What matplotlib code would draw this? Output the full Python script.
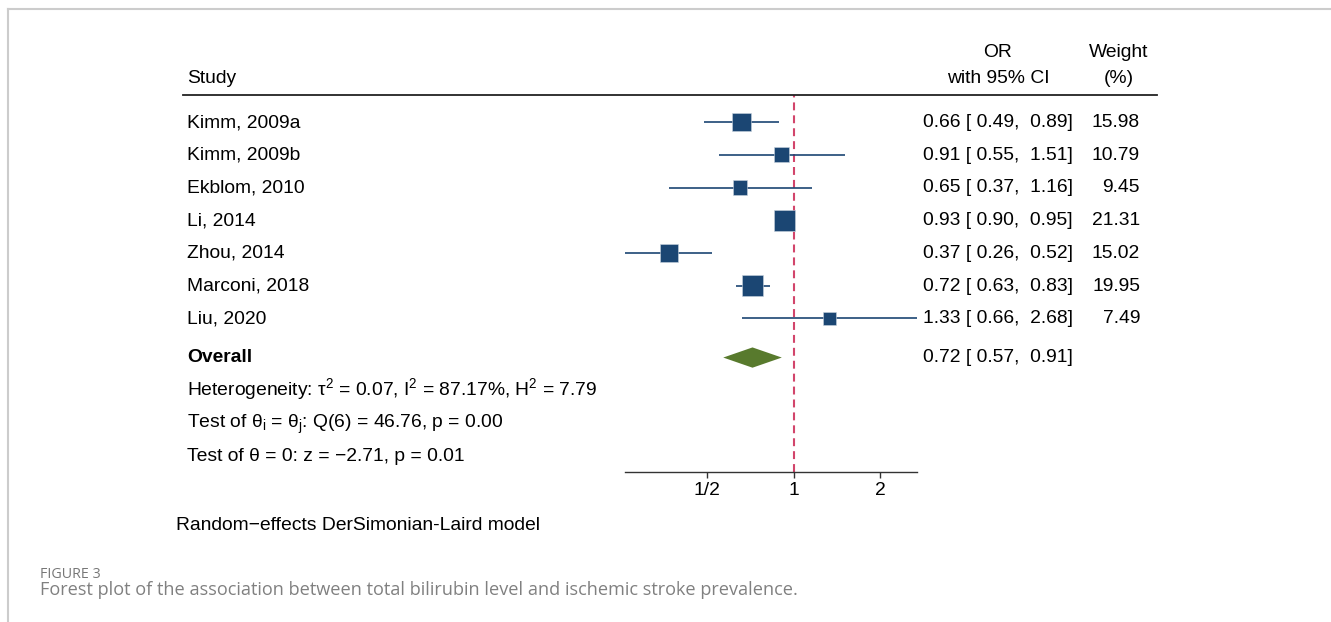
import matplotlib

matplotlib.use("Agg")
import matplotlib.pyplot as plt
import matplotlib.transforms as mtransforms
import numpy as np
from matplotlib.lines import Line2D

studies = ["Kimm, 2009a", "Kimm, 2009b", "Ekblom, 2010", "Li, 2014",
           "Zhou, 2014", "Marconi, 2018", "Liu, 2020"]
odds = [0.66, 0.91, 0.65, 0.93, 0.37, 0.72, 1.33]
ci_low = [0.49, 0.55, 0.37, 0.90, 0.26, 0.63, 0.66]
ci_high = [0.89, 1.51, 1.16, 0.95, 0.52, 0.83, 2.68]
weights = [15.98, 10.79, 9.45, 21.31, 15.02, 19.95, 7.49]

overall = (0.72, 0.57, 0.91)
stats_lines = [
    "Heterogeneity: \u03c4$^{2}$ = 0.07, I$^{2}$ = 87.17%, H$^{2}$ = 7.79",
    "Test of \u03b8$_\\mathrm{i}$ = \u03b8$_\\mathrm{j}$: Q(6) = 46.76, p = 0.00",
    "Test of \u03b8 = 0: z = \u22122.71, p = 0.01",
]
xticks = [0.5, 1, 2]
xticklabels = ["1/2", "1", "2"]

NAVY = "#1b4673"
GREEN = "#587a2d"
RED = "#d2456b"
FS = 13.9
BASE = 0.15  # baseline offset (row units) so cap height centres on the row

plt.rcParams["font.family"] = ["Liberation Sans", "DejaVu Sans"]
plt.rcParams["mathtext.fontset"] = "custom"
plt.rcParams["mathtext.rm"] = "Liberation Sans"
plt.rcParams["mathtext.it"] = "Liberation Sans:italic"
plt.rcParams["mathtext.sf"] = "Liberation Sans"

W, H = 1331, 622
fig = plt.figure(figsize=(W / 100, H / 100), dpi=100)


def fx(px):
    return px / W


def fy(py):
    return 1 - py / H


# forest panel: x is log OR, y is row index (0 at top)
ax = fig.add_axes([fx(625), fy(472), fx(917) - fx(625), fy(95) - fy(472)])
ax.set_xscale("log")
ax.set_xlim(0.26, 2.68)
ax.set_ylim(10.7, -0.83)
for s in ["top", "right", "left"]:
    ax.spines[s].set_visible(False)
ax.spines["bottom"].set_color("#333333")
ax.spines["bottom"].set_linewidth(1.0)
ax.set_yticks([])
ax.set_xticks(xticks)
ax.set_xticklabels(xticklabels, fontsize=FS)
ax.xaxis.set_minor_locator(matplotlib.ticker.NullLocator())
ax.tick_params(axis="x", length=4, width=1.0, color="#333333", pad=3)

rows = np.arange(len(studies))
ax.axvline(1, color=RED, lw=1.5, ls=(0, (3.8, 2.4)), zorder=1)
ax.hlines(rows, ci_low, ci_high, color=NAVY, lw=1.2, zorder=2)
side_pt = 4.6 * np.sqrt(weights) * 0.72
ax.scatter(odds, rows, marker="s", s=side_pt ** 2, color=NAVY,
           edgecolor="#c9d3de", linewidth=0.4, zorder=3)

y_over = 7.2
est, lo, hi = overall
ax.fill([lo, est, hi, est], [y_over, y_over - 0.31, y_over, y_over + 0.31],
        color=GREEN, lw=0, zorder=3)

# text columns share the panel's row positions
trans = mtransforms.blended_transform_factory(fig.transFigure, ax.transData)
for i, name in enumerate(studies):
    ax.text(fx(187), i + BASE, name, transform=trans, fontsize=FS, va="baseline")
    ax.text(fx(1073), i + BASE, f"{odds[i]:.2f} [{ci_low[i]:5.2f},  {ci_high[i]:.2f}]",
            transform=trans, fontsize=FS, va="baseline", ha="right")
    ax.text(fx(1140), i + BASE, f"{weights[i]:.2f}", transform=trans, fontsize=FS,
            va="baseline", ha="right")

ax.text(fx(187), y_over + BASE, "Overall", transform=trans, fontsize=FS,
        fontweight="bold", va="baseline")
ax.text(fx(1073), y_over + BASE, f"{est:.2f} [{lo:5.2f},  {hi:.2f}]", transform=trans,
        fontsize=FS, va="baseline", ha="right")
for k, line in enumerate(stats_lines):
    ax.text(fx(187), 8.2 + k + BASE, line, transform=trans, fontsize=FS, va="baseline")

# header
fig.text(fx(187), fy(83), "Study", fontsize=FS, va="baseline")
fig.text(fx(998), fy(57), "OR", fontsize=FS, va="baseline", ha="center")
fig.text(fx(998), fy(83), "with 95% CI", fontsize=FS, va="baseline", ha="center")
fig.text(fx(1119), fy(57), "Weight", fontsize=FS, va="baseline", ha="center")
fig.text(fx(1119), fy(83), "(%)", fontsize=FS, va="baseline", ha="center")
fig.add_artist(Line2D([fx(183), fx(1157)], [fy(95), fy(95)], color="#222222",
                      lw=1.3, transform=fig.transFigure))

fig.text(fx(176), fy(530), "Random\u2212effects DerSimonian-Laird model",
         fontsize=FS, va="baseline")

# journal frame and caption
fig.add_artist(Line2D([fx(8), 1], [fy(9), fy(9)], color="#cccccc", lw=1.5,
                      transform=fig.transFigure))
fig.add_artist(Line2D([fx(8), fx(8)], [fy(9), 0], color="#cccccc", lw=1.5,
                      transform=fig.transFigure))
fig.text(fx(40), fy(575), "FIGURE 3", fontsize=10.3, color="#777777",
         va="center", family=["Open Sans", "DejaVu Sans"])
fig.text(fx(40), fy(590), "Forest plot of the association between total bilirubin "
         "level and ischemic stroke prevalence.", fontsize=13.1, color="#808080",
         va="center", family=["Open Sans", "DejaVu Sans"])

fig.savefig("out.png", dpi=100)
